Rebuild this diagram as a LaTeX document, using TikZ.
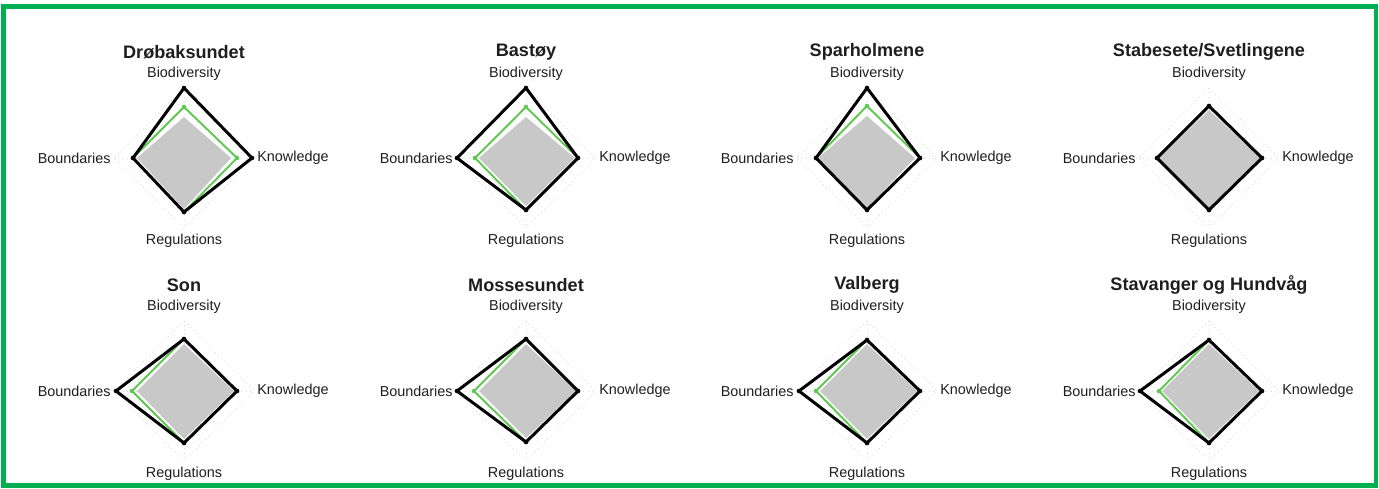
\documentclass[tikz,border=0pt]{standalone}
\usepackage{fontspec}
\setmainfont{Liberation Sans}
\usepackage{tikz}

\definecolor{framegreen}{RGB}{0,176,80}
\definecolor{linegreen}{RGB}{95,200,80}
\definecolor{areagray}{RGB}{200,200,200}
\definecolor{textgray}{RGB}{30,30,30}

\tikzset{
	charttitle/.style={font=\fontsize{10.3}{12}\selectfont\bfseries, text=textgray, inner sep=0pt},
	axislabel/.style={font=\fontsize{8.2}{10}\selectfont, text=textgray, inner sep=0pt},
	gridline/.style={draw=gray!30, dotted, line width=0.5pt},
	meanarea/.style={fill=areagray, draw=none},
	greenline/.style={draw=linegreen, line width=1.1pt, line join=round},
	greendot/.style={fill=linegreen},
	blackline/.style={draw=black, line width=1.7pt, line join=miter},
	blackdot/.style={fill=black},
}

%% frame of one chart: name, title, x, y
\newcommand{\radarframe}[4]{%
	\begin{scope}[shift={(#3,#4)}]
		\draw[gridline] (0,70) -- (70,0) -- (0,-70) -- (-70,0) -- cycle;
		\draw[gridline] (0,70) -- (0,-70) (-70,0) -- (70,0);
		\node[charttitle] (#1-title) at (0,106) {#2};
		\node[axislabel] (#1-bio) at (0,84) {Biodiversity};
		\node[axislabel, anchor=west] (#1-know) at (73,0) {Knowledge};
		\node[axislabel] (#1-reg) at (0,-83) {Regulations};
		\node[axislabel, anchor=east] (#1-bound) at (-73,0) {Boundaries};
	\end{scope}}

%% filled area: style, x, y, biodiversity, knowledge, regulations, boundaries
\newcommand{\radararea}[7]{%
	\begin{scope}[shift={(#2,#3)}]
		\path[#1] (0,#4) -- (#5,0) -- (0,-#6) -- (-#7,0) -- cycle;
	\end{scope}}

%% line with dots: line style, dot style, x, y, biodiversity, knowledge, regulations, boundaries
\newcommand{\radarline}[8]{%
	\begin{scope}[shift={(#3,#4)}]
		\path[#1] (0,#5) -- (#6,0) -- (0,-#7) -- (-#8,0) -- cycle;
		\foreach \p in {(0,#5),(#6,0),(0,-#7),(-#8,0)}
			\fill[#2] \p circle (1.3pt);
	\end{scope}}

\begin{document}
\begin{tikzpicture}[x=0.02cm,y=0.02cm]
	\useasboundingbox (0,0) rectangle (1379,488);
	%%Border
	\draw[framegreen, line width=2.3pt] (3.5,481.5) rectangle (1376,2.5);
	
	%%Top row
	\radarframe{drobak}{Drøbaksundet}{184}{330}
	\radararea{meanarea}{184}{330}{41}{47}{51}{47}
	\radarline{greenline}{greendot}{184}{330}{51}{53}{54}{51}
	\radarline{blackline}{blackdot}{184}{330}{70}{68}{54}{51}
	
	\radarframe{bastoy}{Bastøy}{526}{330}
	\radararea{meanarea}{526}{330}{41}{49}{48}{47}
	\radarline{greenline}{greendot}{526}{330}{51}{52}{52}{51}
	\radarline{blackline}{blackdot}{526}{330}{70}{52}{52}{69}
	
	\radarframe{sparholm}{Sparholmene}{867}{330}
	\radararea{meanarea}{867}{330}{42}{48}{50}{49}
	\radarline{greenline}{greendot}{867}{330}{52}{53}{52}{51}
	\radarline{blackline}{blackdot}{867}{330}{70}{53}{52}{51}
	
	\radarframe{stabes}{Stabesete/Svetlingene}{1209}{330}
	\radararea{meanarea}{1209}{330}{48}{51}{50}{50}
	\radarline{greenline}{greendot}{1209}{330}{52}{53}{52}{52}
	\radarline{blackline}{blackdot}{1209}{330}{52}{53}{52}{52}
	
	%%Bottom row
	\radarframe{son}{Son}{184}{97}
	\radararea{meanarea}{184}{97}{47}{50}{48}{47}
	\radarline{greenline}{greendot}{184}{97}{52}{53}{52}{52}
	\radarline{blackline}{blackdot}{184}{97}{52}{53}{52}{68}
	
	\radarframe{mosse}{Mossesundet}{526}{97}
	\radararea{meanarea}{526}{97}{47}{50}{47}{47}
	\radarline{greenline}{greendot}{526}{97}{52}{52}{51}{52}
	\radarline{blackline}{blackdot}{526}{97}{52}{52}{51}{69}
	
	\radarframe{valberg}{Valberg}{867}{97}
	\radararea{meanarea}{867}{97}{47}{50}{48}{47}
	\radarline{greenline}{greendot}{867}{97}{51}{53}{52}{51}
	\radarline{blackline}{blackdot}{867}{97}{51}{53}{52}{68}
	
	\radarframe{stavang}{Stavanger og Hundvåg}{1209}{97}
	\radararea{meanarea}{1209}{97}{47}{50}{48}{47}
	\radarline{greenline}{greendot}{1209}{97}{51}{53}{52}{50}
	\radarline{blackline}{blackdot}{1209}{97}{51}{53}{52}{69}
\end{tikzpicture}
\end{document}
